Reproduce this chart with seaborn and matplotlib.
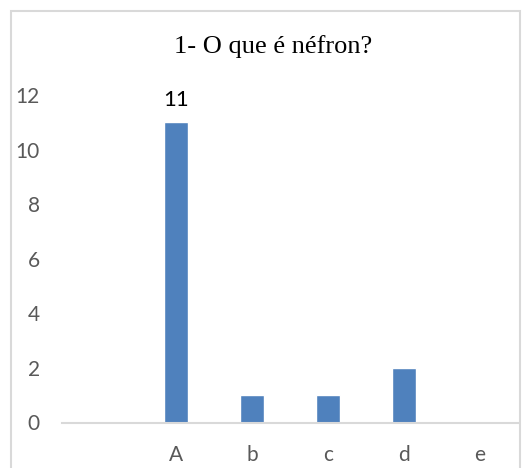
import matplotlib
matplotlib.use("Agg")
import matplotlib.pyplot as plt
from matplotlib.patches import Rectangle
import seaborn as sns
import pandas as pd

# Answers to question 1 and how many students chose each
categories = ["", "A", "b", "c", "d", "e"]
counts = [0, 11, 1, 1, 2, 0]
y_ticks = [0, 2, 4, 6, 8, 10, 12]
title = "1- O que é néfron?"

sns.set_theme(style="white")
plt.rcParams["font.family"] = ["Lato", "DejaVu Sans"]

W, H = 523, 468
fig = plt.figure(figsize=(W / 100, H / 100), dpi=100)
fig.patch.set_facecolor("white")

# Light chart-area frame
fig.add_artist(Rectangle((11 / W, -0.05), (520 - 11) / W, (H - 11) / H + 0.05,
                         transform=fig.transFigure, fill=False,
                         edgecolor="#d9d9d9", linewidth=1.5))

ax = fig.add_axes([62 / W, (H - 422.5) / H, 456 / W, 327.5 / H])
df = pd.DataFrame({"resposta": categories, "n": counts})
sns.barplot(data=df, x="resposta", y="n", order=categories, color="#4f81bd",
            saturation=1, width=0.31, ax=ax)

ax.set_xlim(-0.5, len(categories) - 0.5)
ax.set_ylim(0, 12)
ax.set_yticks(y_ticks)
ax.set_xlabel("")
ax.set_ylabel("")
for s in ["top", "right", "left"]:
    ax.spines[s].set_visible(False)
ax.spines["bottom"].set_color("#d9d9d9")
ax.spines["bottom"].set_linewidth(1.5)
ax.tick_params(axis="both", length=0, labelsize=15, labelcolor="#595959")
ax.tick_params(axis="x", pad=16)
ax.tick_params(axis="y", pad=16)
ax.grid(False)
ax.set_facecolor("white")

# Value label on the tallest bar
ax.bar_label(ax.containers[0], labels=[str(v) if v == max(counts) else "" for v in counts],
             padding=9, fontsize=16, color="black")

fig.text(273 / W, 1 - 47 / H, title, ha="center", va="center",
         fontsize=19, family="Liberation Serif", color="black")

fig.savefig("out.png", dpi=100)
